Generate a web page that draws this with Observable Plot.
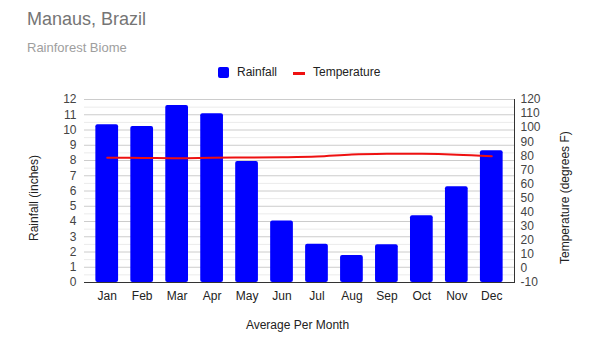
<!DOCTYPE html>
<html>
<head>
<meta charset="utf-8">
<script src="https://cdn.jsdelivr.net/npm/d3@7"></script>
<script src="https://cdn.jsdelivr.net/npm/@observablehq/plot@0.6"></script>
<style>
  body { margin: 0; background: #fff; font-family: "Liberation Sans", Arial, sans-serif; }
  #wrap { position: relative; width: 595px; height: 353px; overflow: hidden; }
  .abs { position: absolute; white-space: nowrap; }
  #title { left: 27px; top: 9px; font-size: 18px; color: #757575; }
  #subtitle { left: 27px; top: 40px; font-size: 13px; color: #9e9e9e; }
  .leg { font-size: 12px; color: #222; }
  .ylab { font-size: 12px; color: #222; transform-origin: 0 0; }
  #xlab { font-size: 12px; color: #222; left: 0; width: 595px; text-align: center; top: 318px; padding-left: 0px; }
</style>
</head>
<body>
<div id="wrap">
  <div id="chart"></div>
  <div class="abs" id="title">Manaus, Brazil</div>
  <div class="abs" id="subtitle">Rainforest Biome</div>
  <div class="abs" style="left:218px; top:67px; width:11px; height:11px; background:#0000ff; border-radius:2px;"></div>
  <div class="abs leg" style="left:237px; top:65px;">Rainfall</div>
  <div class="abs" style="left:293px; top:72px; width:12px; height:3px; background:#ee1111;"></div>
  <div class="abs leg" style="left:313px; top:65px;">Temperature</div>
  <div class="abs ylab" style="left:27px; top:241px; transform: rotate(-90deg);">Rainfall (inches)</div>
  <div class="abs ylab" style="left:558px; top:264px; transform: rotate(-90deg);">Temperature (degrees F)</div>
  <div class="abs" id="xlab">Average Per Month</div>
</div>
<script>
const months = ["Jan","Feb","Mar","Apr","May","Jun","Jul","Aug","Sep","Oct","Nov","Dec"];
const rainfall = [10.34, 10.23, 11.6, 11.06, 7.93, 4.04, 2.51, 1.77, 2.47, 4.37, 6.28, 8.64];
const temperature = [78.6, 78.5, 78.3, 78.6, 78.8, 79.0, 79.5, 80.9, 81.4, 81.4, 80.8, 79.7];
const rainTicks = [0,1,2,3,4,5,6,7,8,9,10,11,12];
const tempTicks = [-10,0,10,20,30,40,50,60,70,80,90,100,110,120];

const tMin = -10, tMax = 120, rMax = 12;
const toY = t => (t - tMin) / (tMax - tMin) * rMax;
const fromY = y => Math.round(y / rMax * (tMax - tMin) + tMin);

const rows = months.map((m, i) => ({month: m, rain: rainfall[i], temp: temperature[i]}));
const minor = d3.range(0.5, 12, 1);

const chart = Plot.plot({
  width: 595,
  height: 353,
  marginTop: 99,
  marginBottom: 71,
  marginLeft: 84,
  marginRight: 81,
  style: {fontFamily: "Liberation Sans, Arial, sans-serif", fontSize: "12px", color: "#444", background: "transparent"},
  x: {domain: months, paddingInner: 0.35, paddingOuter: 0.325, round: false, label: null},
  y: {domain: [0, rMax], label: null},
  marks: [
    Plot.ruleY(minor, {stroke: "#ebebeb", strokeWidth: 1}),
    Plot.ruleY(rainTicks, {stroke: "#cccccc", strokeWidth: 1}),
    Plot.axisY(rainTicks, {anchor: "left", tickSize: 0, tickPadding: 8, label: null, fill: "#444"}),
    Plot.axisY(tempTicks.map(toY), {anchor: "right", tickSize: 0, tickPadding: 6, tickFormat: d => String(fromY(d)), label: null, fill: "#444", textAnchor: "start"}),
    Plot.axisX({tickSize: 0, tickPadding: 9, label: null, fill: "#222"}),
    Plot.barY(rows, {x: "month", y: "rain", fill: "#0000ff", rx: 2}),
    Plot.ruleY([0], {stroke: "#333"}),
    Plot.frame({anchor: "right", stroke: "#333"}),
    Plot.line(rows, {x: "month", y: d => toY(d.temp), stroke: "#ee1111", strokeWidth: 2, curve: "catmull-rom"})
  ]
});
document.getElementById("chart").appendChild(chart);
</script>
</body>
</html>
